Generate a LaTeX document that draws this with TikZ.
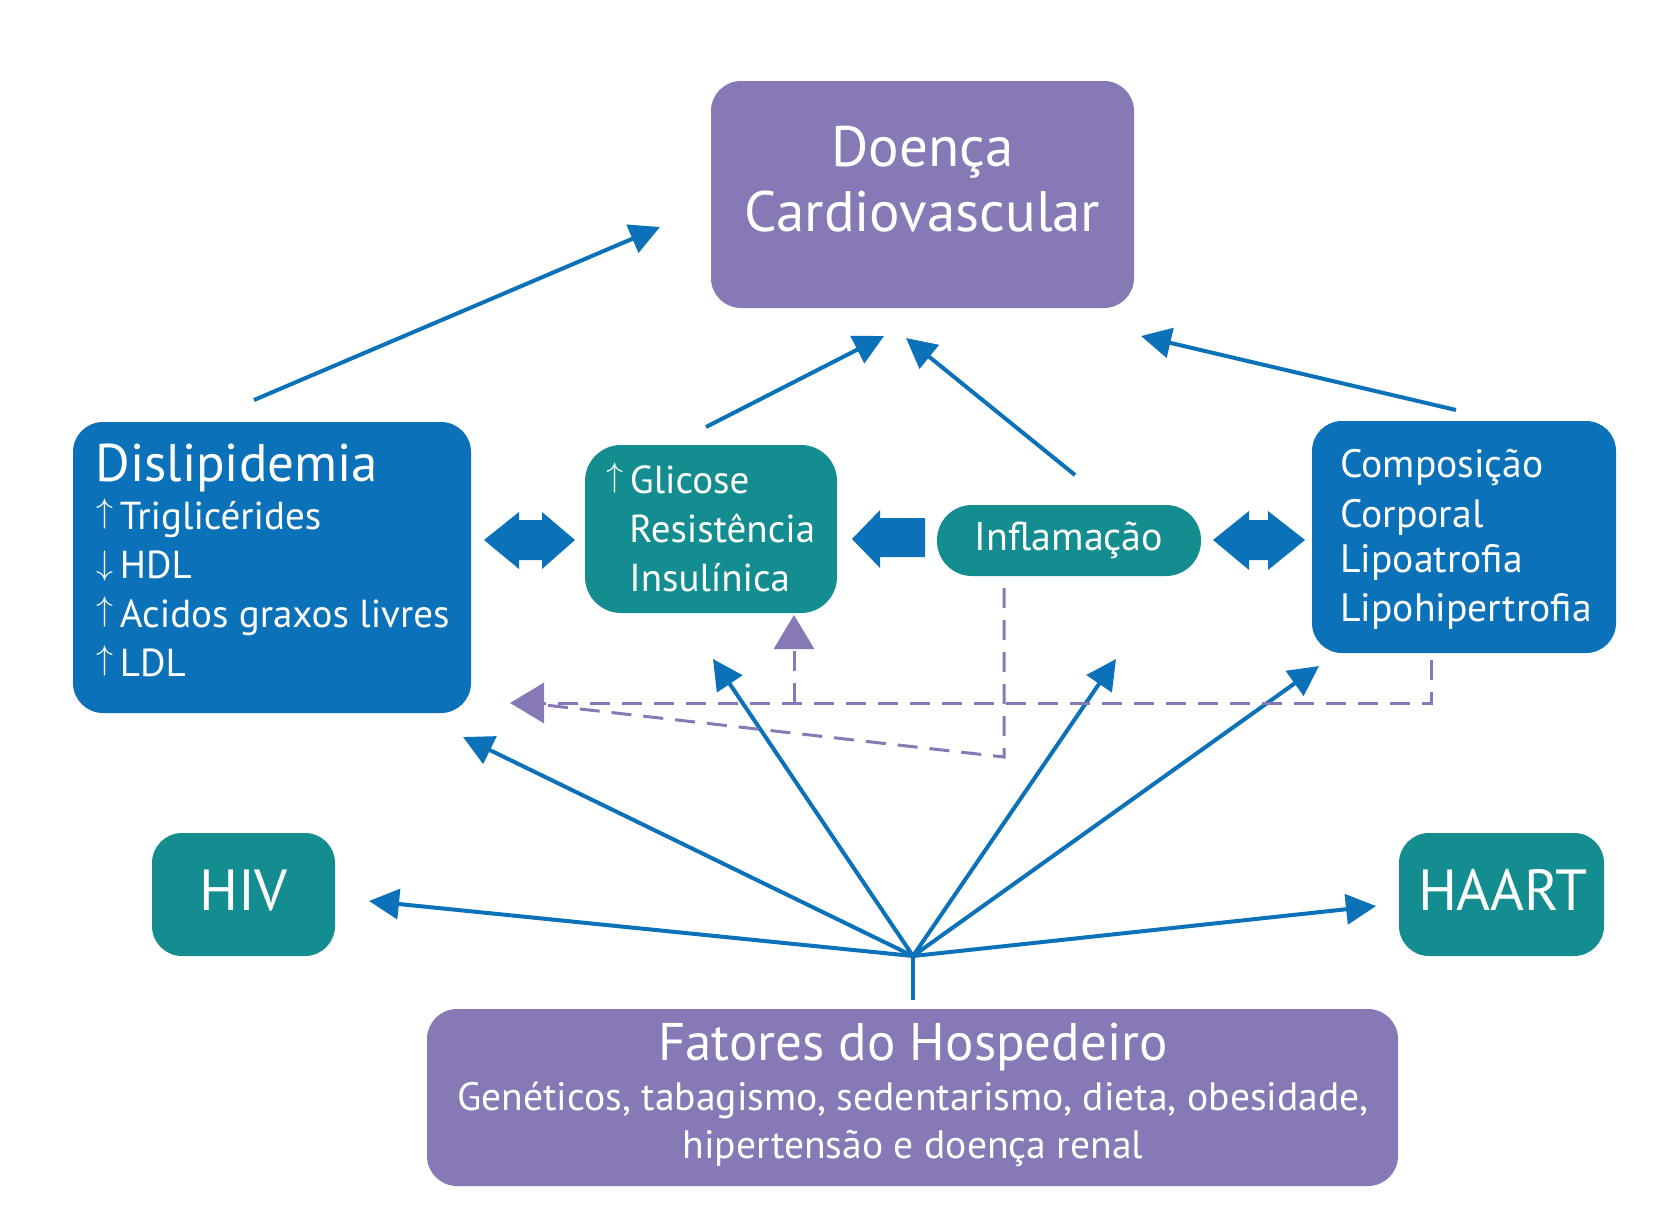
\documentclass[tikz,border=0pt]{standalone}
\usepackage{fontspec}
\usepackage{graphicx}
\setmainfont{PT Sans}
\usetikzlibrary{arrows.meta,calc}
\definecolor{cblue}{RGB}{11,114,186}
\definecolor{cteal}{RGB}{19,141,144}
\definecolor{cpurple}{RGB}{135,121,181}
\newcommand\fsz[1]{\fontsize{#1}{#1}\selectfont}
\newcommand\upa{\raisebox{0.17em}{\scalebox{0.82}{$\uparrow$}}}
\newcommand\dna{\raisebox{0.1em}{\scalebox{0.82}{$\downarrow$}}}
\tikzset{
  box/.style={rounded corners=15pt, inner sep=0pt},
  bbox/.style={box, fill=cblue},
  tbox/.style={box, fill=cteal},
  pbox/.style={box, fill=cpurple},
  txt/.style={text=white, inner sep=0pt, anchor=base west},
  ctxt/.style={text=white, inner sep=0pt, anchor=base},
  conn/.style={draw=cblue, line width=2pt, -{Triangle[length=15pt,width=15pt]}},
  dashconn/.style={draw=cpurple, line width=1.5pt, dash pattern=on 10pt off 6pt},
  ptip/.style={-{Triangle[length=17pt,width=20pt,fill=cpurple]}},
  blockarrow/.style={fill=cblue},
}
\begin{document}
\begin{tikzpicture}[x=0.5pt,y=-0.5pt]
\fill[white] (0,0) rectangle (1665,1211);
\useasboundingbox (0,0) rectangle (1665,1211);

% ---------- boxes ----------
\node[pbox, minimum width=211.5pt, minimum height=113.5pt] (dcv) at (922.5,194.5) {};
\node[ctxt, font={\fsz{28.5pt}}] (dcv1) at (922.5,166) {Doença};
\node[ctxt, font={\fsz{28.5pt}}] (dcv2) at (922.5,231) {Cardiovascular};

\node[bbox, minimum width=199pt, minimum height=145.5pt] (dis) at (272,567.5) {};
\node[txt, font={\fsz{26.5pt}}] (dis1) at (95,481) {Dislipidemia};
\node[txt, font={\fsz{19.5pt}}] (dis2) at (96,529) {\upa\,Triglicérides};
\node[txt, font={\fsz{19.5pt}}] (dis3) at (96,578) {\dna\,HDL};
\node[txt, font={\fsz{19.5pt}}] (dis4) at (96,627) {\upa\,Acidos graxos livres};
\node[txt, font={\fsz{19.5pt}}] (dis5) at (96,676) {\upa\,LDL};

\node[tbox, rounded corners=18pt, minimum width=126pt, minimum height=84pt] (gli) at (711,529) {};
\node[txt, font={\fsz{19.5pt}}] (gli1) at (606,493) {\upa\,Glicose};
\node[txt, font={\fsz{19.5pt}}] (gli2) at (629,542) {Resistência};
\node[txt, font={\fsz{19.5pt}}] (gli3) at (629,591) {Insulínica};

\node[tbox, rounded corners=17.5pt, minimum width=132pt, minimum height=35.5pt] (inf) at (1069,540.5) {};
\node[ctxt, font={\fsz{20pt}}] (inf1) at (1069,550) {Inflamação};

\node[bbox, minimum width=152pt, minimum height=116pt] (comp) at (1464,537) {};
\node[txt, font={\fsz{19.8pt}}] (comp1) at (1340,477) {Composição};
\node[txt, font={\fsz{19.8pt}}] (comp2) at (1340,527) {Corporal};
\node[txt, font={\fsz{19.8pt}}] (comp3) at (1340,572) {Lipoatrofia};
\node[txt, font={\fsz{19.8pt}}] (comp4) at (1340,621) {Lipohipertrofia};

\node[tbox, minimum width=91.5pt, minimum height=61.5pt] (hiv) at (243.5,894.5) {};
\node[ctxt, font={\fsz{29pt}}] (hiv1) at (243.5,910) {HIV};

\node[tbox, minimum width=102.5pt, minimum height=61.5pt] (haart) at (1501.5,894.5) {};
\node[ctxt, font={\fsz{29pt}}] (haart1) at (1503,910) {HAART};

\node[pbox, minimum width=485.5pt, minimum height=88.5pt] (fat) at (912.5,1097.5) {};
\node[ctxt, font={\fsz{26.5pt}}] (fat1) at (913,1060) {Fatores do Hospedeiro};
\node[ctxt, font={\fsz{19.8pt}}] (fat2) at (913,1110) {Genéticos, tabagismo, sedentarismo, dieta, obesidade,};
\node[ctxt, font={\fsz{19.8pt}}] (fat3) at (913,1158) {hipertensão e doença renal};

% ---------- coordinates ----------
\coordinate (J) at (913,956);
\coordinate (Jb) at (913,1000);
\coordinate (tHIV) at (369,901);
\coordinate (tHAART) at (1376,906);
\coordinate (tDis) at (463,737);
\coordinate (tGli) at (713,659);
\coordinate (tInf) at (1116,659);
\coordinate (tComp) at (1319,666);
\coordinate (sDis) at (254,400);
\coordinate (tDcvA) at (660,227);
\coordinate (sGli) at (706,427);
\coordinate (tDcvB) at (884,336);
\coordinate (sInf) at (1075,475);
\coordinate (tDcvC) at (906,338);
\coordinate (sComp) at (1456,410);
\coordinate (tDcvD) at (1141,336);

% ---------- blue connectors ----------
\draw[cblue, line width=2pt] (Jb) -- (J);
\draw[conn] (J) -- (tHIV);
\draw[conn] (J) -- (tHAART);
\draw[conn] (J) -- (tDis);
\draw[conn] (J) -- (tGli);
\draw[conn] (J) -- (tInf);
\draw[conn] (J) -- (tComp);
\draw[conn] (sDis) -- (tDcvA);
\draw[conn] (sGli) -- (tDcvB);
\draw[conn] (sInf) -- (tDcvC);
\draw[conn] (sComp) -- (tDcvD);

% ---------- dashed purple connectors ----------
\coordinate (cA) at (1431,660);
\coordinate (dTip) at (510,703);
\coordinate (iA) at (1004,588);
\coordinate (iB) at (1004,757);
\coordinate (iC) at (545,705);
\coordinate (gA) at (794,703);
\coordinate (gTip) at (794,615);
\draw[dashconn, ptip] (cA) |- (dTip);
\draw[dashconn] (iA) -- (iB) -- (iC);
\draw[dashconn, ptip] (gA) -- (gTip);

% ---------- block arrows ----------
\fill[blockarrow] (484,540) -- (519,512) -- (519,520) -- (542,520) -- (542,512) -- (575,540)
   -- (542,569) -- (542,560) -- (519,560) -- (519,569) -- cycle;
\fill[blockarrow] (1213,540) -- (1249,511) -- (1249,520) -- (1268,520) -- (1268,511) -- (1305,540)
   -- (1268,570) -- (1268,560) -- (1249,560) -- (1249,570) -- cycle;
\fill[blockarrow] (852,539) -- (880,510) -- (880,518) -- (925,518) -- (925,557) -- (880,557)
   -- (880,568) -- cycle;
\end{tikzpicture}
\end{document}
